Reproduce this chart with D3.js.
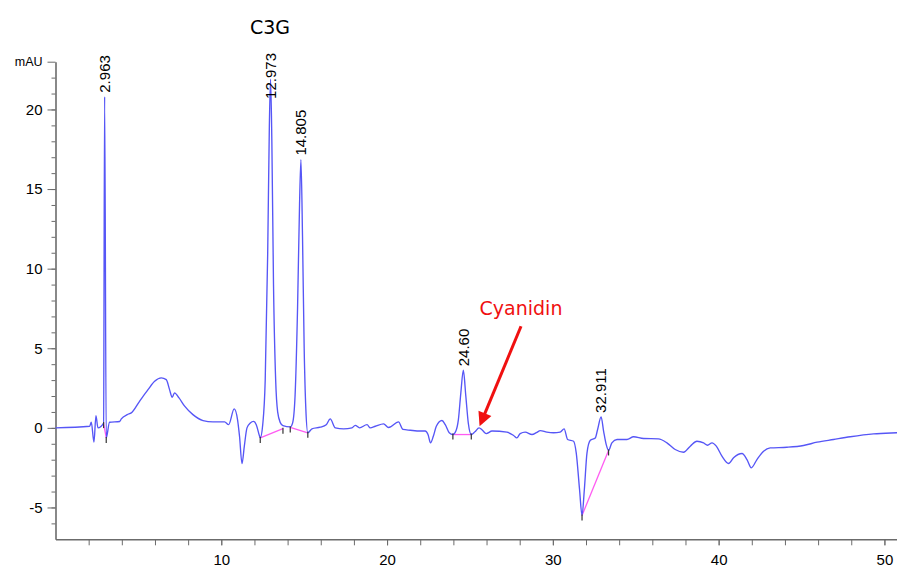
<!DOCTYPE html>
<html>
<head>
<meta charset="utf-8">
<script src="https://cdn.jsdelivr.net/npm/d3@7/dist/d3.min.js"></script>
<style>
  html, body { margin: 0; padding: 0; background: #fff; }
  svg { display: block; }
</style>
</head>
<body>
<svg id="chart" width="897" height="581"></svg>
<script>
// Chromatogram trace: retention time (min) and absorbance (mAU)
const traceTime = [
  0.0, 2.06, 2.16, 2.32, 2.44, 2.56, 2.90, 3.06, 3.26, 3.87, 3.97, 4.33, 4.57,
  5.07, 5.58, 5.98, 6.38, 6.68, 6.88, 7.04, 7.18, 7.45, 7.79, 8.29, 8.90, 9.50,
  10.20, 10.44, 10.78, 10.98, 11.10, 11.25, 11.39, 11.55, 11.75, 11.95, 12.11,
  12.31, 12.35, 12.50, 12.65, 12.80, 12.90, 13.05, 13.15, 13.28, 13.40, 13.56,
  13.72, 14.16, 14.30, 14.45, 14.60, 14.72, 14.90, 15.00, 15.10, 15.22, 15.47,
  15.97, 16.33, 16.57, 16.88, 17.38, 17.88, 18.08, 18.34, 18.79, 18.99, 19.29,
  19.79, 20.09, 20.69, 20.96, 21.40, 22.00, 22.30, 22.47, 22.62, 22.79, 22.97,
  23.31, 23.51, 23.75, 23.97, 24.15, 24.30, 24.45, 24.75, 24.90, 25.08, 25.30,
  25.55, 25.75, 25.98, 26.33, 27.23, 27.63, 27.83, 28.03, 28.33, 28.74, 29.04,
  29.24, 29.64, 30.04, 30.44, 30.68, 30.89, 31.25, 31.41, 31.61, 31.76, 31.90,
  32.06, 32.26, 32.56, 32.70, 33.06, 33.22, 33.36, 33.56, 33.87, 34.47, 34.87,
  35.47, 36.37, 36.88, 37.38, 37.88, 38.29, 38.69, 39.09, 39.33, 39.60, 39.86,
  40.20, 40.60, 40.90, 41.41, 41.71, 41.97, 42.31, 42.71, 43.11, 44.12, 45.12,
  45.94, 46.93, 47.94, 49.34, 50.75, 51.0
];
const traceMAU = [
  0.0, 0.1, 0.35, -0.9, 0.77, 0.0, 0.3, -0.63, 0.35, 0.4, 0.56, 0.83, 0.94,
  1.67, 2.4, 2.93, 3.14, 3.03, 2.4, 1.92, 2.2, 1.88, 1.36, 0.83, 0.46, 0.38,
  0.38, 0.2, 1.19, 0.52, -0.53, -2.24, -1.15, 0.0, 0.31, 0.41, 0.2,
  -0.53, -0.63, 0.2, 3.0, 11.0, 19.0, 18.0, 9.0, 3.0, 1.0, 0.33,
  0.14, 0.06, 0.3, 2.0, 7.5, 14.0, 12.0, 5.0, 1.2, -0.31, -0.06,
  0.04, 0.2, 0.56, 0.0, -0.06, 0.0, 0.16, 0.0, 0.2, 0.0, 0.1,
  0.25, 0.02, 0.38, -0.1, -0.15, -0.2, -0.2, -0.42, -0.94, -0.53, 0.1,
  0.46, 0.2, -0.31, -0.42, -0.2, 0.5, 2.2, 2.0, 0.3, -0.42, -0.25,
  0.0, -0.15, -0.36, -0.2, -0.27, -0.48, -0.63, -0.36, -0.27, -0.42, -0.28,
  -0.17, -0.27, -0.31, -0.27, -0.06, -0.73, -0.84, -1.57, -3.87, -5.5, -3.87,
  -1.57, -0.78, -0.63, -0.1, -0.2, -1.05, -1.42, -0.94, -0.73, -0.73, -0.56,
  -0.67, -0.69, -0.94, -1.36, -1.53, -1.15, -0.84, -0.94, -1.09, -0.94, -1.15,
  -1.78, -2.24, -1.88, -1.61, -1.99, -2.51, -1.99, -1.47, -1.26, -1.22, -1.11,
  -0.9, -0.73, -0.56, -0.38, -0.31, -0.3
];

// Integrated peaks: apex retention time and apex height (mAU)
const peakRT = [2.963, 12.973, 14.805, 24.60, 32.911];
const peakLabels = ["2.963", "12.973", "14.805", "24.60", "32.911"];
const peakHeight = [20.8, 21.9, 16.85, 3.62, 0.69];

// Integration baselines: [start time, start mAU, end time, end mAU]
const baseStartT = [2.90, 12.35, 14.16, 23.97, 31.76];
const baseStartV = [0.3, -0.63, 0.03, -0.42, -5.5];
const baseEndT = [3.06, 13.72, 15.22, 25.08, 33.36];
const baseEndV = [-0.63, -0.05, -0.31, -0.42, -1.42];

// Axis ticks
const yMajorTicks = [-5, 0, 5, 10, 15, 20, 23];
const yMinorTicks = d3.range(-6, 23, 1);
const xMajorTicks = [10, 20, 30, 40, 50];
const xMinorTicks = d3.range(2, 51, 2);

// Annotation arrow for cyanidin
const noteText = "Cyanidin";
const noteTail = [28.08, 6.38];
const noteTip = [25.58, 0.1];

const svg = d3.select("#chart");
const x = d3.scaleLinear().domain([0, 51]).range([55.5, 901]);
const y = d3.scaleLinear().domain([-7, 23]).range([539.3, 61.7]);

const axisColor = "#6b6b6b";
const labelFont = "'Liberation Sans', Arial, sans-serif";

// Y axis: minor ticks, then major ticks with labels
svg.append("g")
  .attr("transform", `translate(${x(0)},0)`)
  .call(d3.axisLeft(y).tickValues(yMinorTicks).tickSize(4).tickFormat(""))
  .call(g => g.select(".domain").remove())
  .call(g => g.selectAll("line").attr("stroke", axisColor));

svg.append("g")
  .attr("transform", `translate(${x(0)},0)`)
  .call(d3.axisLeft(y).tickValues(yMajorTicks).tickSize(8).tickSizeOuter(0).tickPadding(5)
    .tickFormat(d => d === 23 ? "mAU" : d))
  .call(g => g.select(".domain").attr("stroke", axisColor).attr("stroke-width", 1.6))
  .call(g => g.selectAll("line").attr("stroke", axisColor))
  .call(g => g.selectAll("text").attr("fill", "#000").style("font-family", labelFont)
    .style("font-size", d => d === 23 ? "12.5px" : "15px"));

// X axis
svg.append("g")
  .attr("transform", `translate(0,${y(-7)})`)
  .call(d3.axisBottom(x).tickValues(xMinorTicks).tickSize(6).tickSizeOuter(0).tickFormat(""))
  .call(g => g.select(".domain").attr("stroke", axisColor).attr("stroke-width", 1.6))
  .call(g => g.selectAll("line").attr("stroke", axisColor));

svg.append("g")
  .attr("transform", `translate(0,${y(-7)})`)
  .call(d3.axisBottom(x).tickValues(xMajorTicks).tickSize(6).tickPadding(9))
  .call(g => g.select(".domain").remove())
  .call(g => g.selectAll("line").attr("stroke", axisColor))
  .call(g => g.selectAll("text").attr("fill", "#000").style("font-family", labelFont).style("font-size", "15px"));

// Trace: base points merged with the labelled apexes
const trace = traceTime.map((t, i) => ({ t, v: traceMAU[i] }))
  .concat(peakRT.map((t, i) => ({ t, v: peakHeight[i] })))
  .sort((a, b) => a.t - b.t);

// Integration baselines
const baselines = baseStartT.map((t, i) => ({ t0: t, v0: baseStartV[i], t1: baseEndT[i], v1: baseEndV[i] }));
svg.append("g").selectAll("line").data(baselines).join("line")
  .attr("x1", d => x(d.t0)).attr("y1", d => y(d.v0))
  .attr("x2", d => x(d.t1)).attr("y2", d => y(d.v1))
  .attr("stroke", "#ff5cf2").attr("stroke-width", 1.3);

const line = d3.line().x(d => x(d.t)).y(d => y(d.v)).curve(d3.curveMonotoneX);
svg.append("path").datum(trace)
  .attr("d", line)
  .attr("fill", "none")
  .attr("stroke", "#5656f6")
  .attr("stroke-width", 1.35)
  .attr("stroke-linejoin", "round");

// Start/end markers of each integrated peak
const markers = baselines.flatMap(d => [{ t: d.t0, v: d.v0 }, { t: d.t1, v: d.v1 }]);
svg.append("g").selectAll("line").data(markers).join("line")
  .attr("x1", d => x(d.t)).attr("x2", d => x(d.t))
  .attr("y1", d => y(d.v) - 1).attr("y2", d => y(d.v) + 5)
  .attr("stroke", "#333").attr("stroke-width", 1.2);

// Retention time labels, rotated, clamped at the top of the plot
const labelG = svg.append("g");
peakRT.forEach((t, i) => {
  const txt = labelG.append("text")
    .style("font-family", labelFont).style("font-size", "15px").attr("fill", "#000")
    .attr("dy", "0.35em")
    .text(peakLabels[i]);
  const len = txt.node().getComputedTextLength();
  const start = Math.max(y(peakHeight[i]) - 4, 53 + len);
  txt.attr("transform", `translate(${x(t)},${start}) rotate(-90)`);
});

// Title
svg.append("text")
  .attr("x", 270).attr("y", 34)
  .attr("text-anchor", "middle")
  .style("font-family", "'DejaVu Sans', sans-serif").style("font-size", "19px")
  .attr("fill", "#000")
  .text("C3G");

// Cyanidin annotation
const tipX = x(noteTip[0]), tipY = y(noteTip[1]);
const tailX = x(noteTail[0]), tailY = y(noteTail[1]);
const dx = tipX - tailX, dy = tipY - tailY, L = Math.hypot(dx, dy);
const ux = dx / L, uy = dy / L, headLen = 14, headHalf = 7;
const bx = tipX - ux * headLen, by = tipY - uy * headLen;
svg.append("line")
  .attr("x1", tailX).attr("y1", tailY).attr("x2", bx + ux * 2).attr("y2", by + uy * 2)
  .attr("stroke", "#f01010").attr("stroke-width", 3);
svg.append("path")
  .attr("d", `M${tipX},${tipY}L${bx - uy * headHalf},${by + ux * headHalf}L${bx + uy * headHalf},${by - ux * headHalf}Z`)
  .attr("fill", "#f01010");
svg.append("text")
  .attr("x", tailX).attr("y", tailY - 11)
  .attr("text-anchor", "middle")
  .style("font-family", "'DejaVu Sans', sans-serif").style("font-size", "19px")
  .attr("fill", "#f01010")
  .text(noteText);
</script>
</body>
</html>
